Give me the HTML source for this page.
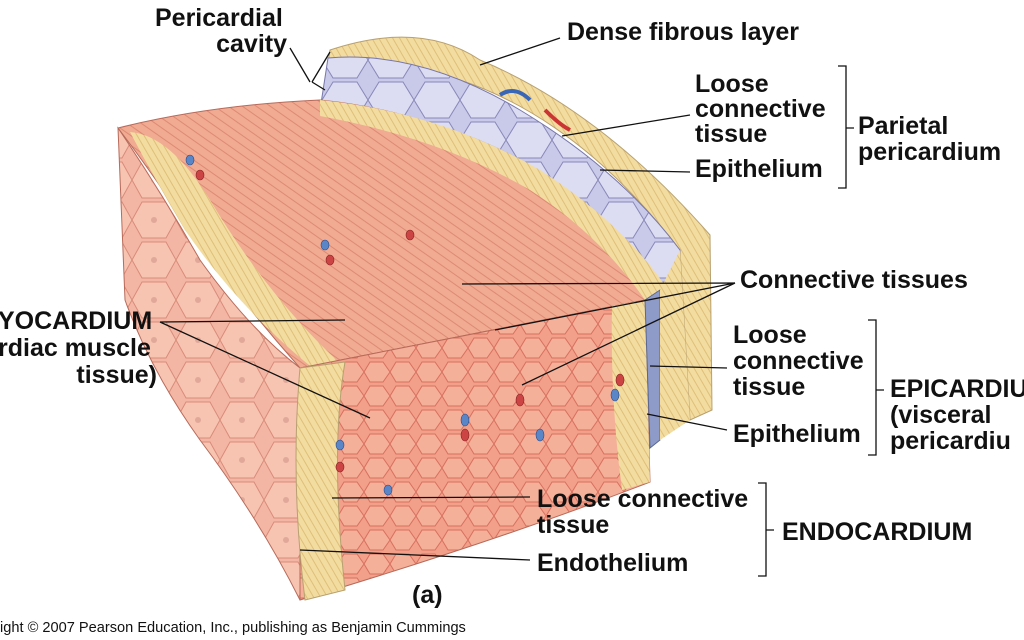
<!DOCTYPE html>
<html><head><meta charset="utf-8"><style>
html,body{margin:0;padding:0;background:#fff;}
svg{display:block}
text{font-family:"Liberation Sans",sans-serif;font-weight:bold;font-size:25px;fill:#111}
.s{font-weight:normal;font-size:14.6px}
</style></head><body>
<svg width="1024" height="640" viewBox="0 0 1024 640">
<defs>
<pattern id="cells" width="26" height="24" patternUnits="userSpaceOnUse">
<rect width="26" height="24" fill="#f2a08a"/>
<path d="M0 12 L6 2 L19 2 L26 12 L19 22 L6 22 Z" fill="#f5b09a" stroke="#d8705e" stroke-width="1"/>
</pattern>
<pattern id="bigcells" width="44" height="40" patternUnits="userSpaceOnUse">
<rect width="44" height="40" fill="#f4b6a4"/>
<path d="M0 20 L10 2 L34 2 L44 20 L34 38 L10 38 Z" fill="#f7c4b2" stroke="#d98b78" stroke-width="1"/>
<circle cx="22" cy="20" r="3" fill="#e0a898"/>
</pattern>
<pattern id="purple" width="46" height="40" patternUnits="userSpaceOnUse">
<rect width="46" height="40" fill="#c9c9ea"/>
<path d="M0 20 L11 2 L35 2 L46 20 L35 38 L11 38 Z" fill="#dcdcf3" stroke="#8888b8" stroke-width="1"/>
</pattern>
<pattern id="fib" width="8" height="8" patternUnits="userSpaceOnUse" patternTransform="rotate(35)">
<rect width="8" height="8" fill="#f0ab92"/>
<line x1="0" y1="4" x2="8" y2="4" stroke="#d9826c" stroke-width="0.8"/>
</pattern>
<pattern id="yel" width="6" height="6" patternUnits="userSpaceOnUse" patternTransform="rotate(60)">
<rect width="6" height="6" fill="#f3dca0"/>
<line x1="0" y1="3" x2="6" y2="3" stroke="#d9b870" stroke-width="0.8"/>
</pattern>
</defs>
<path d="M330 50 Q420 20 480 60 Q600 110 710 235 L712 410 L690 420 L680 250 Q580 120 460 80 Q390 60 325 80 Z" fill="url(#yel)" stroke="#b8a070" stroke-width="1"/>
<path d="M328 58 Q420 50 520 110 Q620 170 680 250 L676 300 Q600 210 520 160 Q430 110 320 110 Z" fill="url(#purple)" stroke="#7777aa" stroke-width="1"/>
<path d="M118 128 Q210 105 320 100 Q440 112 540 175 Q620 230 662 290 L645 300 L300 368 Q240 300 190 230 Q150 170 118 128 Z" fill="url(#fib)" stroke="#b86a5a" stroke-width="1"/>
<path d="M320 100 Q440 112 540 170 Q625 225 668 290 L645 300 Q600 235 530 190 Q440 138 320 116 Z" fill="url(#yel)"/>
<path d="M118 128 Q160 190 200 260 Q250 330 300 368 L300 600 Q260 520 200 440 Q150 370 125 300 Z" fill="url(#bigcells)" stroke="#b86a5a" stroke-width="1"/>
<path d="M130 132 Q170 135 210 200 Q270 300 345 368 L315 370 Q240 310 185 230 Q155 180 130 132 Z" fill="url(#yel)"/>
<path d="M300 368 L645 300 L650 482 Q500 540 300 600 Z" fill="url(#cells)" stroke="#b86a5a" stroke-width="1"/>
<path d="M300 368 L345 362 Q330 450 345 590 L305 600 Q290 480 300 368 Z" fill="url(#yel)" stroke="#b8a070"/>
<path d="M612 306 L645 300 L650 482 L622 490 Q610 400 612 306 Z" fill="url(#yel)"/>
<path d="M645 300 L660 290 L660 440 L650 448 Z" fill="#8e9ac8" stroke="#5a6890"/>
<path d="M660 290 L680 250 L690 420 L660 440 Z" fill="url(#yel)"/>
<g fill="#c44" stroke="#822" stroke-width="0.6">
<ellipse cx="200" cy="175" rx="4" ry="5"/><ellipse cx="330" cy="260" rx="4" ry="5"/><ellipse cx="410" cy="235" rx="4" ry="5"/><ellipse cx="465" cy="435" rx="4" ry="6"/><ellipse cx="620" cy="380" rx="4" ry="6"/><ellipse cx="340" cy="467" rx="4" ry="5"/><ellipse cx="520" cy="400" rx="4" ry="6"/>
</g>
<g fill="#5a86c8" stroke="#2a4a88" stroke-width="0.6">
<ellipse cx="190" cy="160" rx="4" ry="5"/><ellipse cx="325" cy="245" rx="4" ry="5"/><ellipse cx="465" cy="420" rx="4" ry="6"/><ellipse cx="540" cy="435" rx="4" ry="6"/><ellipse cx="615" cy="395" rx="4" ry="6"/><ellipse cx="340" cy="445" rx="4" ry="5"/><ellipse cx="388" cy="490" rx="4" ry="5"/>
</g>
<path d="M500 95 Q515 85 530 100" stroke="#3a66b8" stroke-width="4" fill="none"/>
<path d="M545 110 Q560 125 570 130" stroke="#c33" stroke-width="4" fill="none"/>
<g stroke="#111" stroke-width="1.3" fill="none">
<path d="M290 48 L310 82"/><path d="M312 82 L330 52 M312 82 L325 90"/>
<path d="M560 38 L480 65"/>
<path d="M690 115 L562 136"/>
<path d="M690 172 L600 170"/>
<path d="M735 283 L462 284 M735 283 L495 330 M735 283 L522 385"/>
<path d="M160 322 L345 320 M160 322 L370 418"/>
<path d="M727 368 L650 366"/>
<path d="M727 430 L647 414"/>
<path d="M530 497 L332 498"/>
<path d="M530 560 L300 550"/>
<path d="M838 66 L846 66 L846 188 L838 188 M846 128 L854 128"/>
<path d="M868 320 L876 320 L876 455 L868 455 M876 390 L884 390"/>
<path d="M758 483 L766 483 L766 576 L758 576 M766 530 L774 530"/>
</g>
<text x="155" y="26">Pericardial</text>
<text x="287" y="52" text-anchor="end">cavity</text>
<text x="567" y="40">Dense fibrous layer</text>
<text x="695" y="92">Loose</text>
<text x="695" y="117">connective</text>
<text x="695" y="142">tissue</text>
<text x="695" y="177">Epithelium</text>
<text x="858" y="134">Parietal</text>
<text x="858" y="160">pericardium</text>
<text x="740" y="288">Connective tissues</text>
<text x="-2" y="329">YOCARDIUM</text>
<text x="-2" y="356">rdiac muscle</text>
<text x="157" y="383" text-anchor="end">tissue)</text>
<text x="733" y="343">Loose</text>
<text x="733" y="369">connective</text>
<text x="733" y="395">tissue</text>
<text x="733" y="442">Epithelium</text>
<text x="890" y="397">EPICARDIU</text>
<text x="890" y="423">(visceral</text>
<text x="890" y="449">pericardiu</text>
<text x="537" y="507">Loose connective</text>
<text x="537" y="533">tissue</text>
<text x="782" y="540">ENDOCARDIUM</text>
<text x="537" y="571">Endothelium</text>
<text x="412" y="603">(a)</text>
<text class="s" x="0" y="632">ight © 2007 Pearson Education, Inc., publishing as Benjamin Cummings</text>
</svg>
</body></html>
